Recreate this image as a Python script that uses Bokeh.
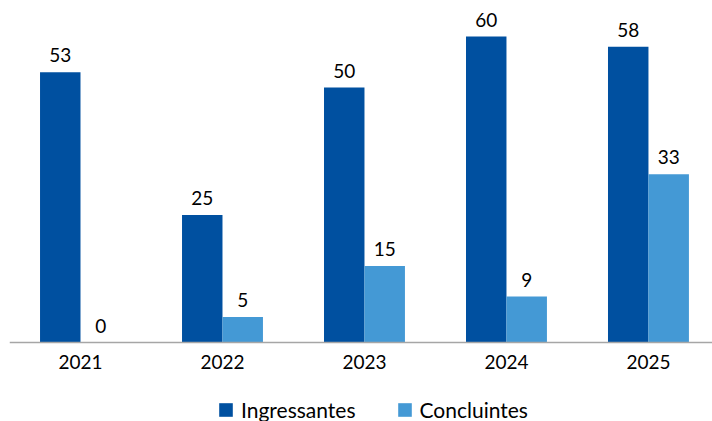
from bokeh.plotting import figure
from bokeh.models import ColumnDataSource, LabelSet, Legend, LegendItem, Range1d, Span
from bokeh.core.properties import value
from bokeh.transform import dodge
from bokeh.embed import file_html
from bokeh.resources import INLINE

years = ["2021", "2022", "2023", "2024", "2025"]
ingressantes = [53, 25, 50, 60, 58]
concluintes = [0, 5, 15, 9, 33]

DARK = "#0050A0"
LIGHT = "#4499D5"
FONT = "Lato"

xpos = list(range(len(years)))
src = ColumnDataSource(dict(x=xpos, zero=[0] * len(years), year=years,
                            ing=ingressantes, con=concluintes,
                            ing_t=[str(v) for v in ingressantes],
                            con_t=[str(v) for v in concluintes]))

p = figure(width=712, height=421, output_backend="svg", toolbar_location=None,
           x_range=Range1d(-0.5, 4.451), y_range=Range1d(-15.49, 67.06),
           min_border_left=9, min_border_right=0, min_border_top=0, min_border_bottom=0)

w = 0.285
r1 = p.vbar(x=dodge("x", -w / 2), top="ing", width=w, source=src, color=DARK, line_color=None)
r2 = p.vbar(x=dodge("x", w / 2), top="con", width=w, source=src, color=LIGHT, line_color=None)

for col, txt, off in (("ing", "ing_t", -w / 2), ("con", "con_t", w / 2)):
    lbl = LabelSet(x=dodge("x", off), y=col, text=txt, source=src, text_align="center",
                   text_baseline="alphabetic", y_offset=10, text_font=value(FONT),
                   text_font_size="19px", text_color="#000000")
    p.add_layout(lbl)

# baseline (category axis line) and category labels
p.add_layout(Span(location=0, dimension="width", line_color="#A6A6A6", line_width=1.5))
p.add_layout(LabelSet(x="x", y="zero", text="year", source=src, text_align="center",
                      text_baseline="alphabetic", y_offset=-26, text_font=value(FONT),
                      text_font_size="19px", text_color="#000000"))

p.xaxis.visible = False
p.yaxis.visible = False
p.xgrid.visible = False
p.ygrid.visible = False
p.outline_line_color = None

legend = Legend(items=[LegendItem(label="Ingressantes", renderers=[r1]),
                       LegendItem(label="Concluintes", renderers=[r2])],
                orientation="horizontal", location=(208, -1),
                label_text_font=FONT, label_text_font_size="21px", label_text_color="#000000",
                glyph_width=17, glyph_height=17, spacing=40, label_standoff=7,
                border_line_color=None, background_fill_alpha=0, padding=0, margin=0)
p.add_layout(legend)

open("out.html", "w").write(file_html(p, INLINE))
